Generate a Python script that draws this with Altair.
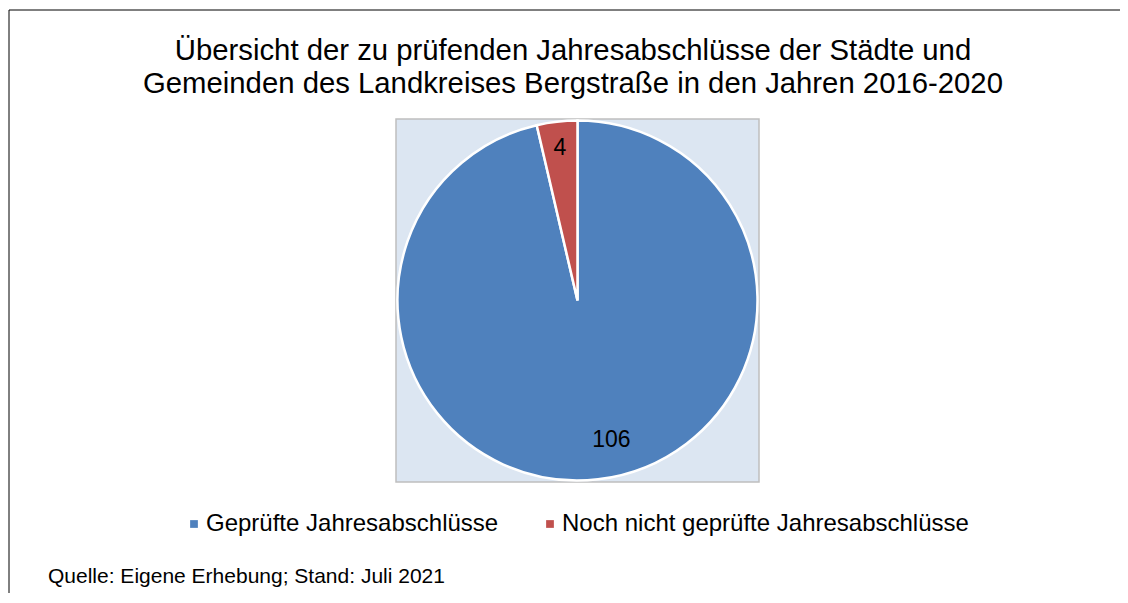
import altair as alt
import pandas as pd

categories = ["Geprüfte Jahresabschlüsse", "Noch nicht geprüfte Jahresabschlüsse"]
values = [106, 4]
order = [0, 1]
colors = ["#4F81BD", "#C0504D"]

title_lines = [
    "Übersicht der zu prüfenden Jahresabschlüsse der Städte und",
    "Gemeinden des Landkreises Bergstraße in den Jahren 2016-2020",
]
source_text = "Quelle: Eigene Erhebung; Stand: Juli 2021"

df = pd.DataFrame({"Kategorie": categories, "Anzahl": values, "ord": order})
src_df = pd.DataFrame({"t": [source_text]})
title_df = pd.DataFrame({"t": ["\n".join(title_lines)]})

FONT = "Liberation Sans, Arial, Helvetica, sans-serif"

base = alt.Chart(df).encode(
    theta=alt.Theta("Anzahl:Q", stack=True),
    order=alt.Order("ord:Q"),
)

pie = base.mark_arc(outerRadius=180, stroke="white", strokeWidth=2.5).encode(
    color=alt.Color(
        "Kategorie:N",
        scale=alt.Scale(domain=categories, range=colors),
        legend=alt.Legend(
            title=None,
            orient="none",
            legendX=-217,
            legendY=393,
            direction="horizontal",
            columns=2,
            symbolType="square",
            symbolSize=60,
            symbolStrokeWidth=0,
            symbolOffset=3,
            labelFont=FONT,
            labelFontSize=24,
            labelColor="black",
            labelOffset=0,
            columnPadding=36,
            padding=0,
            labelLimit=600,
        ),
    )
)

lbl_big = base.transform_calculate(
    lab="datum.ord == 0 ? '' + datum.Anzahl : ''"
).mark_text(radius=140, dx=18, fontSize=23, font=FONT, color="black").encode(
    text="lab:N"
)

lbl_small = base.transform_calculate(
    lab="datum.ord == 1 ? '' + datum.Anzahl : ''"
).mark_text(radius=154, fontSize=23, font=FONT, color="black").encode(
    text="lab:N"
)

title = alt.Chart(title_df).mark_text(
    align="center", baseline="alphabetic", fontSize=29.3, font=FONT, color="black",
    lineBreak="\n", lineHeight=33,
).encode(text="t:N", x=alt.value(177), y=alt.value(-59))

source = alt.Chart(src_df).mark_text(
    align="left", baseline="alphabetic", fontSize=21, font=FONT, color="black"
).encode(text="t:N", x=alt.value(-348), y=alt.value(464))

frame_left = alt.Chart(src_df).mark_rule(color="black", strokeWidth=1).encode(
    x=alt.value(-387), y=alt.value(-109), y2=alt.value(480)
)
frame_top = alt.Chart(src_df).mark_rule(color="black", strokeWidth=1).encode(
    x=alt.value(-387), x2=alt.value(730), y=alt.value(-109)
)

chart = alt.layer(pie, lbl_big, lbl_small, title, source, frame_left, frame_top).properties(
    width=363,
    height=363,
    autosize=alt.AutoSizeParams(type="none"),
    padding={"left": 388, "top": 111, "right": 361, "bottom": 111},
).configure(
    background="white"
).configure_view(
    fill="#DCE6F2", stroke="#BFBFBF", strokeWidth=1.5
)

chart.save("out.html", embed_options={"renderer": "svg", "actions": False})
